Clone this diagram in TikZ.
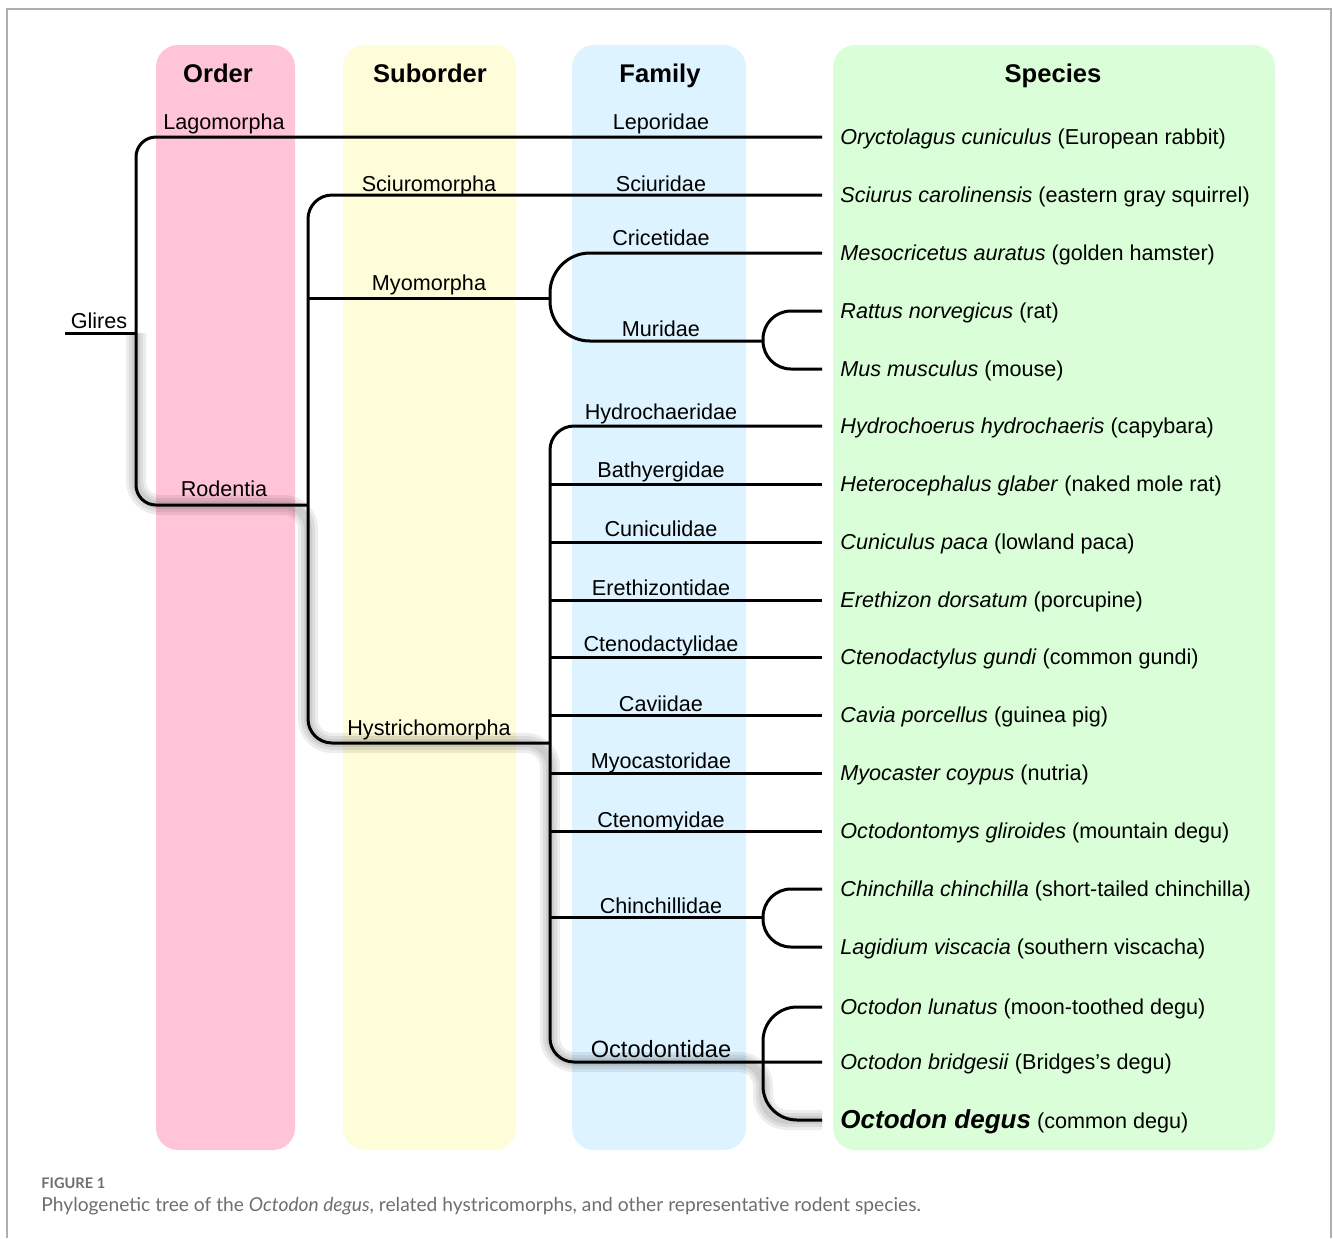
\documentclass[tikz,border=0pt]{standalone}
\usepackage{fontspec}
\setmainfont{Liberation Sans}
\newfontfamily\captionfont{Lato}
\usetikzlibrary{positioning}
\definecolor{orderpink}{RGB}{255,196,216}
\definecolor{subyellow}{RGB}{255,252,217}
\definecolor{famblue}{RGB}{221,243,255}
\definecolor{specgreen}{RGB}{218,255,216}
\definecolor{framegray}{RGB}{175,175,175}
\definecolor{captiongray}{RGB}{110,110,110}

\begin{document}
\begin{tikzpicture}
	[x=0.5pt,y=-0.5pt,
	 column/.style={rounded corners=11pt},
	 head/.style={font=\fontsize{12.8}{15}\selectfont\bfseries,anchor=base,inner sep=0pt},
	 taxon/.style={font=\fontsize{10.8}{13}\selectfont,anchor=base,inner sep=0pt},
	 tip/.style={font=\fontsize{10.8}{13}\selectfont,anchor=west,inner xsep=9pt,inner ysep=0pt,text height=7.8pt,text depth=0pt},
	 branch/.style={line width=1.5pt,black},
	 glow/.style={black,opacity=0.07,rounded corners=12pt}]

	\useasboundingbox (0,0) rectangle (1333,1238);
	\draw[framegray,line width=0.6pt] (7,1238) -- (7,9) -- (1331,9) -- (1331,1238);

	% rank columns
	\fill[orderpink,column] (156,45) rectangle (295,1150);
	\fill[subyellow,column] (343,45) rectangle (516,1150);
	\fill[famblue,column] (572,45) rectangle (746,1150);
	\fill[specgreen,column] (833,45) rectangle (1275,1150);
	\node[head] (order) at (218,82) {Order};
	\node[head] (suborder) at (430,82) {Suborder};
	\node[head] (family) at (660,82) {Family};
	\node[head] (species) at (1053,82) {Species};

	% species
	\node[tip] (s1) at (822,137) {\textit{Oryctolagus cuniculus} (European rabbit)};
	\node[tip] (s2) at (822,195) {\textit{Sciurus carolinensis} (eastern gray squirrel)};
	\node[tip] (s3) at (822,253) {\textit{Mesocricetus auratus} (golden hamster)};
	\node[tip] (s4) at (822,311) {\textit{Rattus norvegicus} (rat)};
	\node[tip] (s5) at (822,369) {\textit{Mus musculus} (mouse)};
	\node[tip] (s6) at (822,426) {\textit{Hydrochoerus hydrochaeris} (capybara)};
	\node[tip] (s7) at (822,484) {\textit{Heterocephalus glaber} (naked mole rat)};
	\node[tip] (s8) at (822,542) {\textit{Cuniculus paca} (lowland paca)};
	\node[tip] (s9) at (822,600) {\textit{Erethizon dorsatum} (porcupine)};
	\node[tip] (s10) at (822,657) {\textit{Ctenodactylus gundi} (common gundi)};
	\node[tip] (s11) at (822,715) {\textit{Cavia porcellus} (guinea pig)};
	\node[tip] (s12) at (822,773) {\textit{Myocaster coypus} (nutria)};
	\node[tip] (s13) at (822,831) {\textit{Octodontomys gliroides} (mountain degu)};
	\node[tip] (s14) at (822,889) {\textit{Chinchilla chinchilla} (short-tailed chinchilla)};
	\node[tip] (s15) at (822,947) {\textit{Lagidium viscacia} (southern viscacha)};
	\node[tip] (s16) at (822,1007) {\textit{Octodon lunatus} (moon-toothed degu)};
	\node[tip] (s17) at (822,1062) {\textit{Octodon bridgesii} (Bridges's degu)};
	\node[tip,text height=8.6pt] (s18) at (822,1120) {{\fontsize{13}{15}\selectfont\bfseries\itshape Octodon degus} (common degu)};

	% forks
	\coordinate (glires) at (65,333);
	\coordinate (gliresfork) at (136,333);
	\coordinate (rodfork) at (308,505);
	\coordinate (myofork) at (550,298);
	\coordinate (murfork) at (763,341);
	\coordinate (hysfork) at (550,743);
	\coordinate (chinfork) at (763,917);
	\coordinate (octfork) at (763,1062);

	% shadow along the degu lineage
	\foreach \w in {10,7,4}
		\draw[glow,line width=\w pt,shift={(1,4)}] (gliresfork) -- (gliresfork |- rodfork) -- (rodfork) -- (rodfork |- hysfork) -- (hysfork) -- (hysfork |- octfork) -- (octfork) -- (octfork |- s18.west) -- (s18.west);

	% tree
	\draw[branch] (glires) -- (gliresfork);
	\draw[branch,rounded corners=10pt] (s1.west) -- (gliresfork |- s1.west) -- (gliresfork |- rodfork) -- (rodfork);
	\draw[branch,rounded corners=12pt] (s2.west) -- (rodfork |- s2.west) -- (rodfork |- hysfork) -- (hysfork);
	\draw[branch] (rodfork |- myofork) -- (myofork);
	\draw[branch,rounded corners=20pt] (s3.west) -- (myofork |- s3.west) -- (myofork |- murfork) -- (murfork);
	\draw[branch,rounded corners=14pt] (s4.west) -- (murfork |- s4.west) -- (murfork |- s5.west) -- (s5.west);
	\draw[branch,rounded corners=12pt] (s6.west) -- (hysfork |- s6.west) -- (hysfork |- octfork) -- (s17.west);
	\draw[branch] (hysfork |- s7.west) -- (s7.west);
	\draw[branch] (hysfork |- s8.west) -- (s8.west);
	\draw[branch] (hysfork |- s9.west) -- (s9.west);
	\draw[branch] (hysfork |- s10.west) -- (s10.west);
	\draw[branch] (hysfork |- s11.west) -- (s11.west);
	\draw[branch] (hysfork |- s12.west) -- (s12.west);
	\draw[branch] (hysfork |- s13.west) -- (s13.west);
	\draw[branch] (hysfork |- chinfork) -- (chinfork);
	\draw[branch,rounded corners=14pt] (s14.west) -- (chinfork |- s14.west) -- (chinfork |- s15.west) -- (s15.west);
	\draw[branch,rounded corners=17pt] (s16.west) -- (octfork |- s16.west) -- (octfork |- s18.west) -- (s18.west);

	% clade labels
	\node[taxon] (gliresname) at (99,328) {Glires};
	\node[taxon] (lagomorpha) at (224,129) {Lagomorpha};
	\node[taxon] (rodentia) at (224,496) {Rodentia};
	\node[taxon] (sciuromorpha) at (429,191) {Sciuromorpha};
	\node[taxon] (myomorpha) at (429,290) {Myomorpha};
	\node[taxon] (hystrichomorpha) at (429,735) {Hystrichomorpha};
	\node[taxon] (leporidae) at (661,129) {Leporidae};
	\node[taxon] (sciuridae) at (661,191) {Sciuridae};
	\node[taxon] (cricetidae) at (661,245) {Cricetidae};
	\node[taxon] (muridae) at (661,336) {Muridae};
	\node[taxon] (hydrochaeridae) at (661,419) {Hydrochaeridae};
	\node[taxon] (bathyergidae) at (661,477) {Bathyergidae};
	\node[taxon] (cuniculidae) at (661,536) {Cuniculidae};
	\node[taxon] (erethizontidae) at (661,595) {Erethizontidae};
	\node[taxon] (ctenodactylidae) at (661,651) {Ctenodactylidae};
	\node[taxon] (caviidae) at (661,711) {Caviidae};
	\node[taxon] (myocastoridae) at (661,768) {Myocastoridae};
	\node[taxon] (ctenomyidae) at (661,827) {Ctenomyidae};
	\node[taxon] (chinchillidae) at (661,913) {Chinchillidae};
	\node[taxon,font=\fontsize{11.8}{14}\selectfont] (octodontidae) at (661,1057) {Octodontidae};

	% caption
	\node[anchor=west,inner sep=0pt,text=captiongray,font=\captionfont\fontsize{7.3}{9}\selectfont\bfseries] (figlabel) at (41,1183) {FIGURE 1};
	\node[anchor=west,inner sep=0pt,text=captiongray,font=\captionfont\fontsize{9.6}{12}\selectfont] (figcaption) at (41,1206) {Phylogenetic tree of the \textit{Octodon degus}, related hystricomorphs, and other representative rodent species.};
\end{tikzpicture}
\end{document}
